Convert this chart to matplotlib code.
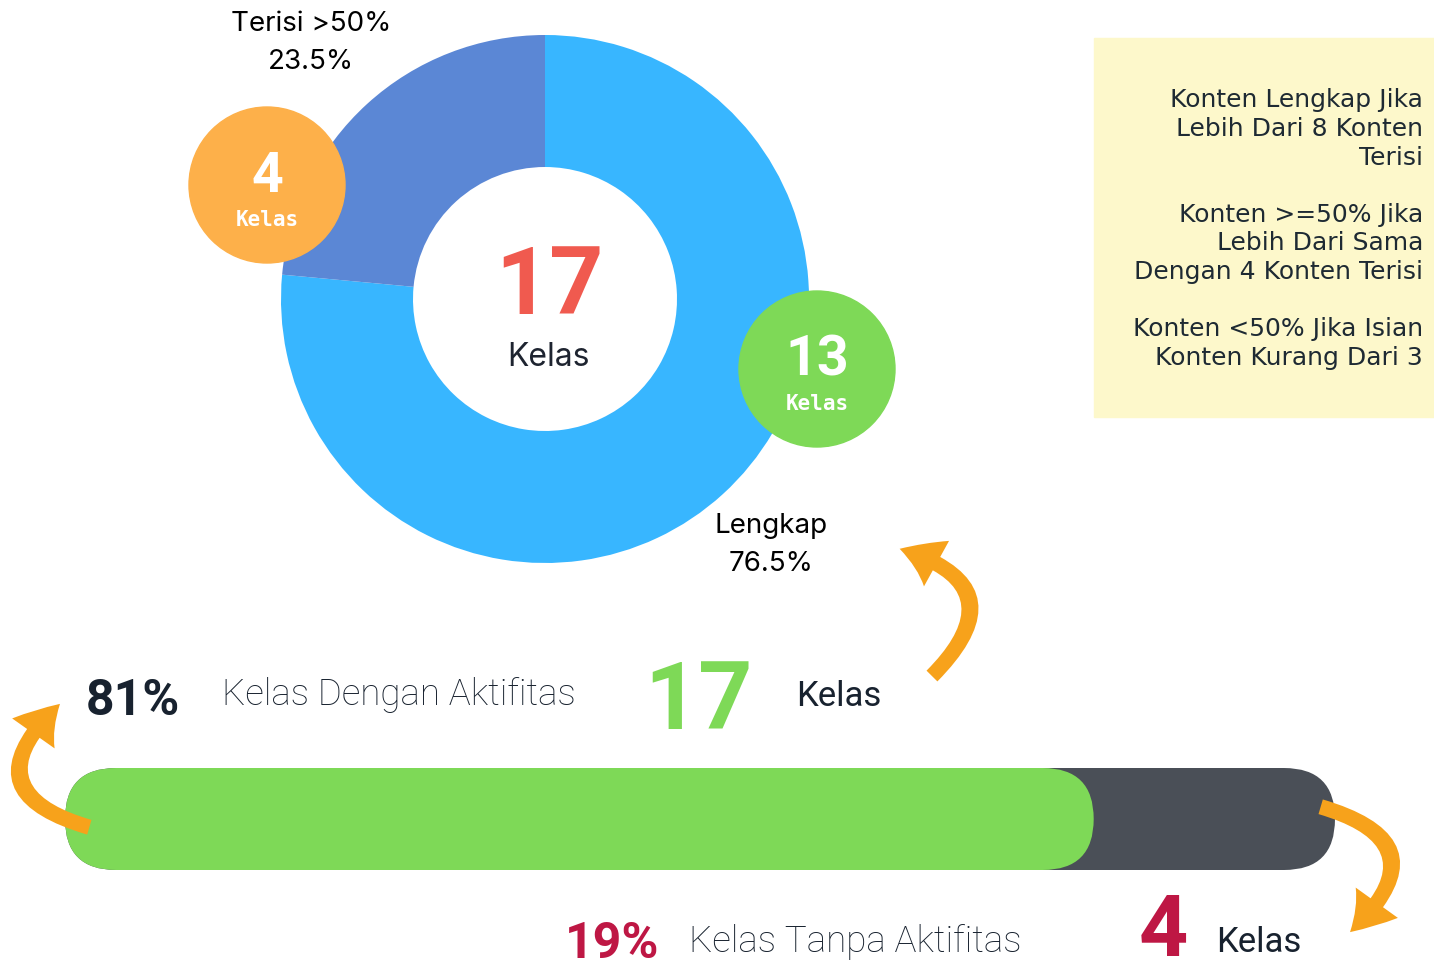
import matplotlib

matplotlib.use("Agg")
import matplotlib.pyplot as plt
from matplotlib.patches import Circle, FancyArrowPatch, FancyBboxPatch, Rectangle

# --- data -----------------------------------------------------------------
donut_labels = ["Lengkap", "Terisi >50%"]
donut_counts = [13, 4]
donut_colors = ["#38B6FF", "#5B87D5"]
badge_colors = ["#7ED957", "#FDB04A"]

activity_labels = ["Kelas Dengan Aktifitas", "Kelas Tanpa Aktifitas"]
activity_pct = [81, 19]
activity_counts = [17, 4]

notes = [
    "Konten Lengkap Jika\nLebih Dari 8 Konten\nTerisi",
    "Konten >=50% Jika\nLebih Dari Sama\nDengan 4 Konten Terisi",
    "Konten <50% Jika Isian\nKonten Kurang Dari 3",
]

ORANGE = "#F7A21B"
NAVY = "#18222F"
CRIMSON = "#BE1744"
GREEN = "#7ED957"
TRACK = "#4A4F57"

W, H = 1434, 976
fig = plt.figure(figsize=(W / 100, H / 100), dpi=100)
ax = fig.add_axes([0, 0, 1, 1])

# --- donut (y axis is inverted, so counterclock=True draws clockwise) -------
cx, cy, R = 545, 299, 264
ax.pie(donut_counts, colors=donut_colors, radius=R, center=(cx, cy),
       startangle=-90, counterclock=True,
       wedgeprops=dict(width=132, linewidth=0))

total = sum(donut_counts)
ax.text(549, 314, str(total), ha="center", va="baseline", fontsize=68,
        fontweight="bold", family="Roboto", color="#F05A4F")
ax.text(549, 357, "Kelas", ha="center", va="center", fontsize=23,
        family="Inter", color="#1E2430")

label_pos = [(771, 545), (311, 43)]
for lab, n, (lx, ly) in zip(donut_labels, donut_counts, label_pos):
    ax.text(lx, ly, f"{lab}\n{n / total * 100:.1f}%", ha="center", va="center",
            fontsize=20, family="Inter", color="black", linespacing=1.6)

# count badges
badge_pos = [(817, 369), (267, 185)]
for n, col, (bx, by) in zip(donut_counts, badge_colors, badge_pos):
    ax.add_patch(Circle((bx, by), 78, color=col, zorder=3))
    ax.text(bx, by + 7, str(n), ha="center", va="baseline", fontsize=40,
            fontweight="bold", family="Roboto", color="white", zorder=4)
    ax.text(bx, by + 35, "Kelas", ha="center", va="center", fontsize=15,
            fontweight="bold", family="DejaVu Sans Mono", color="white", zorder=4)

# --- notes box ------------------------------------------------------------
ax.add_patch(Rectangle((1094, 38), 340, 379, color="#FDF8CB", zorder=1))
ax.text(1423, 229, "\n\n".join(notes), ha="right", va="center", fontsize=18,
        family="DejaVu Sans", color="#1E2A33", linespacing=1.24, zorder=2)

# --- progress bar ---------------------------------------------------------
bx0, by0, bw, bh = 65, 768, 1270, 102
ax.add_patch(FancyBboxPatch((bx0, by0), bw, bh,
                            boxstyle=f"round,pad=0,rounding_size={bh / 2}",
                            color=TRACK, lw=0))
ax.add_patch(FancyBboxPatch((bx0, by0), bw * activity_pct[0] / 100, bh,
                            boxstyle=f"round,pad=0,rounding_size={bh / 2}",
                            color=GREEN, lw=0))

# row above bar
ax.text(133, 715, f"{activity_pct[0]}%", ha="center", va="baseline", fontsize=36,
        fontweight="bold", family="Roboto", color=NAVY)
ax.text(222, 695, activity_labels[0], ha="left", va="center", fontsize=26.5,
        family="Roboto", fontweight="light", color=NAVY)
ax.text(698, 729, str(activity_counts[0]), ha="center", va="baseline",
        fontsize=68, fontweight="bold", family="Roboto", color=GREEN)
ax.text(796, 697, "Kelas", ha="left", va="center", fontsize=25,
        family="Roboto", color=NAVY)

# row below bar
ax.text(612, 958, f"{activity_pct[1]}%", ha="center", va="baseline", fontsize=36,
        fontweight="bold", family="Roboto", color=CRIMSON)
ax.text(689, 942, activity_labels[1], ha="left", va="center", fontsize=26.5,
        family="Roboto", fontweight="light", color=NAVY)
ax.text(1163, 956, str(activity_counts[1]), ha="center", va="baseline",
        fontsize=62, fontweight="bold", family="Roboto", color=CRIMSON)
ax.text(1216, 942, "Kelas", ha="left", va="center", fontsize=25,
        family="Roboto", color=NAVY)

# --- curved arrows --------------------------------------------------------
arrow_style = "simple,head_width=1.7,head_length=1.3,tail_width=0.5"
arrows = [((930, 678), (897, 548), 0.85),
          ((92, 828), (62, 702), -0.9),
          ((1318, 806), (1348, 934), -0.9)]
for a, b, rad in arrows:
    ax.add_patch(FancyArrowPatch(a, b, connectionstyle=f"arc3,rad={rad}",
                                 arrowstyle=arrow_style, mutation_scale=22,
                                 color=ORANGE, lw=0, zorder=5))

ax.set_xlim(0, W)
ax.set_ylim(H, 0)
ax.set_aspect("auto")
ax.axis("off")

fig.savefig("out.png", dpi=100, facecolor="white")
